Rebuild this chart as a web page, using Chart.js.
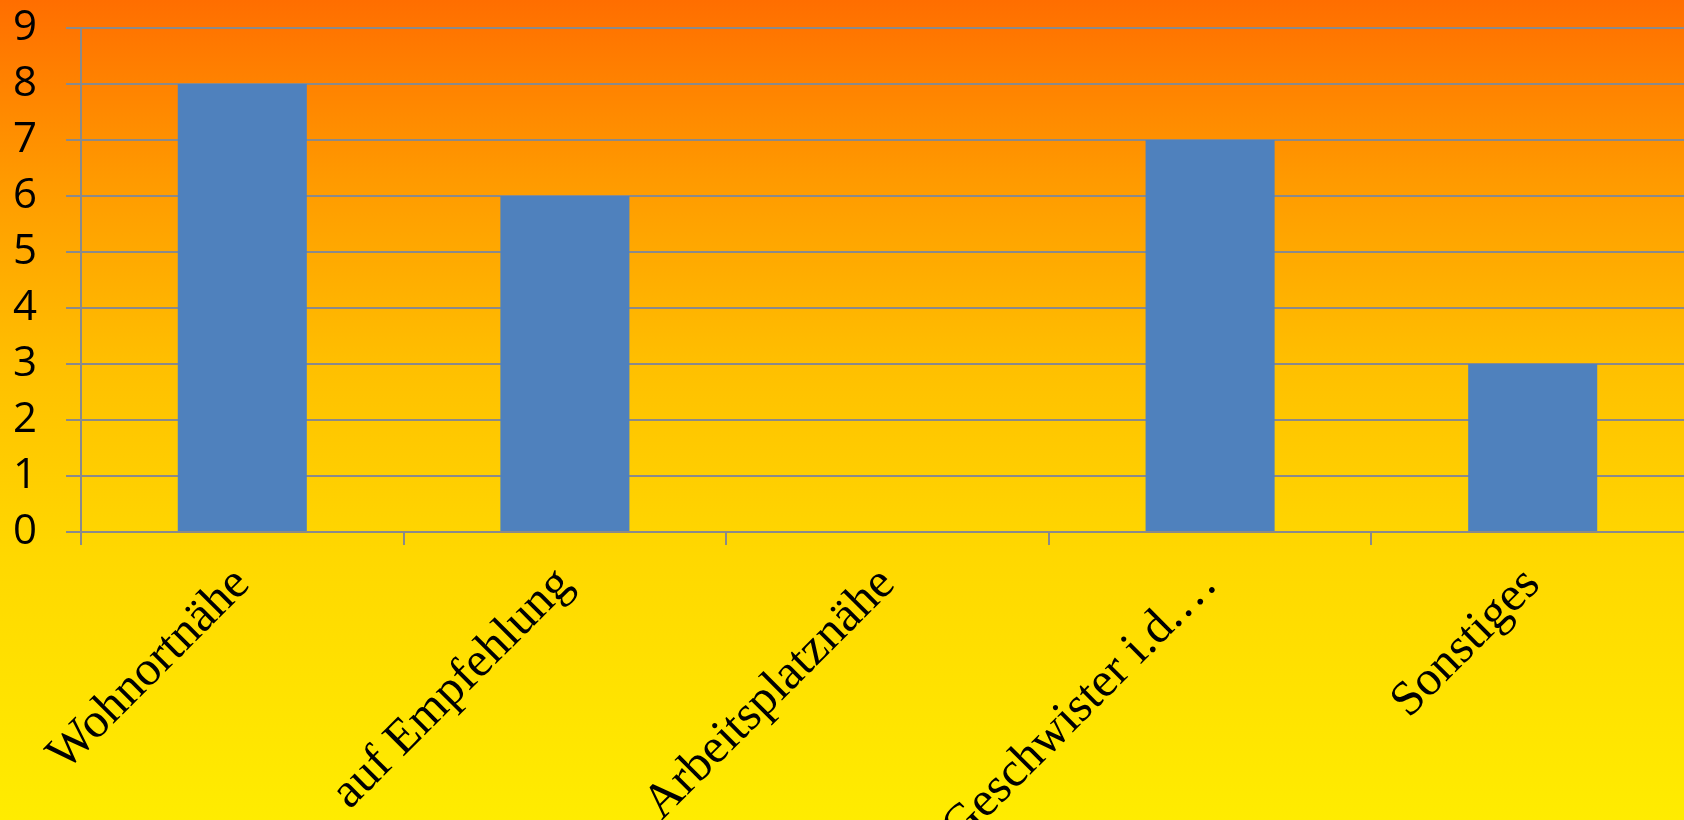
<!DOCTYPE html>
<html>
<head>
<meta charset="utf-8">
<script src="https://cdn.jsdelivr.net/npm/chart.js@4"></script>
<style>
  html, body { margin: 0; padding: 0; overflow: hidden; }
  body {
    width: 1684px; height: 820px;
    background: linear-gradient(to bottom, #ff6e00 0%, #ff9a00 22%, #ffc000 45%, #ffd800 68%, #ffec00 100%);
  }
  #wrap { position: relative; width: 1694px; height: 820px; }
</style>
</head>
<body>
<div id="wrap"><canvas id="chart"></canvas></div>
<script>
const categories = ['Wohnortnähe', 'auf Empfehlung', 'Arbeitsplatznähe', 'Geschwister i.d.…', 'Sonstiges'];
const counts = [8, 6, 0, 7, 3];
const yMax = 9;

const gridGray = '#8a8a8a';

new Chart(document.getElementById('chart'), {
    type: 'bar',
    data: {
        labels: categories,
        datasets: [{
            data: counts,
            backgroundColor: '#4f81bd',
            borderWidth: 0,
            barPercentage: 0.4,
            categoryPercentage: 1
        }]
    },
    options: {
        responsive: true,
        maintainAspectRatio: false,
        animation: false,
        layout: { padding: { top: 28, left: 0, right: 0, bottom: 0 } },
        plugins: {
            legend: { display: false },
            tooltip: { enabled: false }
        },
        scales: {
            x: {
                grid: {
                    offset: true,
                    drawOnChartArea: false,
                    drawTicks: true,
                    tickLength: 13,
                    color: gridGray,
                    lineWidth: 2
                },
                border: { display: true, color: gridGray, width: 2 },
                ticks: {
                    autoSkip: false,
                    maxRotation: 45,
                    minRotation: 45,
                    padding: 11,
                    color: '#000',
                    font: { family: '"Liberation Serif", "Times New Roman", serif', size: 49 }
                },
                afterFit: (scale) => {
                    scale.height = 288;
                    scale.paddingLeft = 0;
                    scale.paddingRight = 0;
                }
            },
            y: {
                min: 0,
                max: yMax,
                grid: {
                    color: gridGray,
                    lineWidth: 2,
                    tickLength: 15
                },
                border: { display: true, color: gridGray, width: 2 },
                ticks: {
                    stepSize: 1,
                    padding: 29,
                    color: '#000',
                    font: { family: '"Open Sans", sans-serif', size: 42 }
                },
                afterFit: (scale) => {
                    scale.width = 81;
                    scale.paddingTop = 0;
                    scale.paddingBottom = 0;
                }
            }
        }
    }
});
</script>
</body>
</html>
